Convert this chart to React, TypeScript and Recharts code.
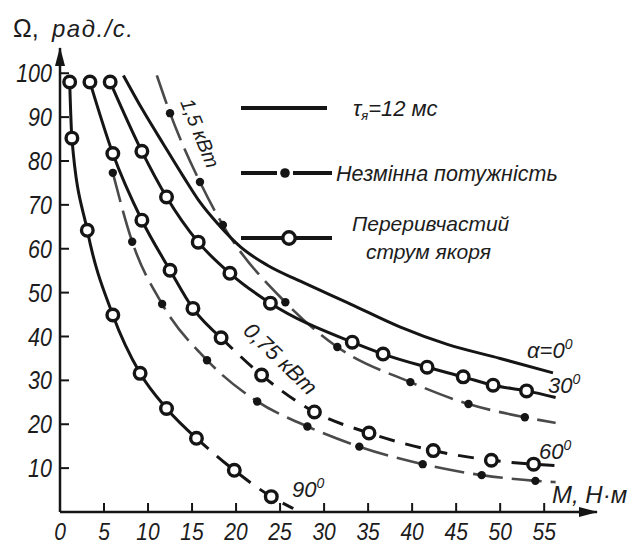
import React from "react";
import { ComposedChart, Line, XAxis, YAxis } from "recharts";

type Pt = { m: number; w: number };

// axis ticks
const xTicks = [0, 5, 10, 15, 20, 25, 30, 35, 40, 45, 50, 55];
const yTicks = [10, 20, 30, 40, 50, 60, 70, 80, 90, 100];

// τя = 12 мс, α = 0° – plain solid curve
const alpha0: Pt[] = [
  { m: 7.2, w: 99.5 },
  { m: 9.4, w: 91.6 },
  { m: 11.7, w: 84 },
  { m: 14, w: 76.5 },
  { m: 15.9, w: 70.6 },
  { m: 18, w: 65.5 },
  { m: 20.5, w: 60.4 },
  { m: 23.5, w: 56.3 },
  { m: 27.3, w: 52.6 },
  { m: 33, w: 47.4 },
  { m: 38.6, w: 42.2 },
  { m: 44, w: 38.2 },
  { m: 50, w: 35 },
  { m: 56, w: 31.7 },
];

// intermittent armature current (circles)
const alpha30Marks: Pt[] = [
  { m: 5.7, w: 98 },
  { m: 9.3, w: 82.2 },
  { m: 12.1, w: 71.8 },
  { m: 15.7, w: 61.5 },
  { m: 19.3, w: 54.4 },
  { m: 23.9, w: 47.6 },
  { m: 33.2, w: 38.7 },
  { m: 36.7, w: 36.0 },
  { m: 41.7, w: 33.0 },
  { m: 45.8, w: 30.8 },
  { m: 49.2, w: 28.9 },
  { m: 53.0, w: 27.6 },
];
const alpha30End: Pt[] = [{ m: 56.3, w: 26.1 }];

const alpha60Marks: Pt[] = [
  { m: 3.4, w: 98 },
  { m: 6.0, w: 81.7 },
  { m: 9.3, w: 66.5 },
  { m: 12.5, w: 55.1 },
  { m: 15.1, w: 46.4 },
  { m: 18.3, w: 39.7 },
  { m: 22.9, w: 31.2 },
  { m: 28.9, w: 22.8 },
  { m: 35.1, w: 18.0 },
  { m: 42.4, w: 14.0 },
  { m: 49.0, w: 11.8 },
  { m: 53.8, w: 10.9 },
];
const alpha60End: Pt[] = [{ m: 56.3, w: 10.6 }];

const alpha90Marks: Pt[] = [
  { m: 1.1, w: 98 },
  { m: 1.35, w: 85.2 },
  { m: 3.1, w: 64.2 },
  { m: 6.0, w: 44.9 },
  { m: 9.1, w: 31.6 },
  { m: 12.1, w: 23.6 },
  { m: 15.5, w: 16.8 },
  { m: 19.8, w: 9.5 },
  { m: 24.0, w: 3.5 },
];
const alpha90End: Pt[] = [{ m: 26.5, w: 0.8 }];

// constant power (dots)
const power15Marks: Pt[] = [
  { m: 12.5, w: 90.9 },
  { m: 15.9, w: 75.2 },
  { m: 18.5, w: 65.4 },
  { m: 25.6, w: 47.8 },
  { m: 31.5, w: 37.6 },
  { m: 39.8, w: 29.6 },
  { m: 46.4, w: 24.6 },
  { m: 52.8, w: 21.6 },
];
const power15Start: Pt[] = [{ m: 11.0, w: 99.5 }];
const power15End: Pt[] = [{ m: 56.3, w: 20.3 }];

const power075Marks: Pt[] = [
  { m: 6.0, w: 77.3 },
  { m: 8.2, w: 61.6 },
  { m: 11.6, w: 47.4 },
  { m: 16.7, w: 34.6 },
  { m: 22.4, w: 25.2 },
  { m: 28.1, w: 19.5 },
  { m: 34.0, w: 14.9 },
  { m: 41.2, w: 10.9 },
  { m: 47.9, w: 8.4 },
  { m: 54.0, w: 7.1 },
];
const power075End: Pt[] = [{ m: 56.3, w: 6.8 }];

const INK = "#151515";
const GREY = "#4a4a4a";
const SANS = "'Liberation Sans', 'DejaVu Sans', sans-serif";

const ring = (p: any) => (
  <circle key={`r${p.index}`} cx={p.cx} cy={p.cy} r={5.8} fill="#fff" stroke={INK} strokeWidth={3.4} />
);
const blob = (p: any) => <circle key={`b${p.index}`} cx={p.cx} cy={p.cy} r={4.2} fill={INK} stroke="none" />;

// narrow italic tick labels (drafting style)
const XTick = (p: any) => (
  <g transform={`translate(${p.x},540) scale(0.86,1)`}>
    <text textAnchor="middle" fontSize={24.5} fontStyle="italic" fontFamily={SANS} fill="#1c1c1c">
      {p.payload.value}
    </text>
  </g>
);
const YTick = (p: any) => (
  <g transform={`translate(52,${p.y}) scale(0.86,1)`}>
    <text textAnchor="end" dy={9} fontSize={25} fontStyle="italic" fontFamily={SANS} fill="#1c1c1c">
      {p.payload.value}
    </text>
  </g>
);

const upTo = (pts: Pt[], m: number) => pts.filter((p) => p.m <= m);
const from = (pts: Pt[], m: number) => pts.filter((p) => p.m >= m);

export default function App() {
  const a30 = [...alpha30Marks, ...alpha30End];
  const a60 = [...alpha60Marks, ...alpha60End];
  const a90 = [...alpha90Marks, ...alpha90End];
  const p15 = [...power15Start, ...power15Marks, ...power15End];
  const p075 = [...power075Marks, ...power075End];

  const txt = { fill: "#1c1c1c", fontStyle: "italic" as const };

  return (
    <div style={{ position: "absolute", left: 0, top: 0, width: 633, height: 546, background: "#fff" }}>
      <ComposedChart width={633} height={546} margin={{ top: 48, right: 36, bottom: 4, left: 10 }}>
        <XAxis
          type="number"
          dataKey="m"
          domain={[0, 61]}
          ticks={xTicks}
          allowDataOverflow
          height={30}
          tickSize={-9}
          axisLine={{ stroke: INK, strokeWidth: 2.5 }}
          tickLine={{ stroke: INK, strokeWidth: 2 }}
          tick={XTick}
        />
        <YAxis
          type="number"
          dataKey="w"
          domain={[0, 105.75]}
          ticks={yTicks}
          allowDataOverflow
          width={50}
          tickSize={-9}
          axisLine={{ stroke: INK, strokeWidth: 2.5 }}
          tickLine={{ stroke: INK, strokeWidth: 2 }}
          tick={YTick}
        />

        {/* constant power */}
        <Line data={p15} dataKey="w" type="monotone" stroke={GREY} strokeWidth={2.6} strokeDasharray="30 9" dot={false} isAnimationActive={false} />
        <Line data={p075} dataKey="w" type="monotone" stroke={GREY} strokeWidth={2.6} strokeDasharray="30 9" dot={false} isAnimationActive={false} />

        {/* tau = 12 ms */}
        <Line data={alpha0} dataKey="w" type="monotone" stroke={INK} strokeWidth={3} dot={false} isAnimationActive={false} />
        <Line data={a30} dataKey="w" type="monotone" stroke={INK} strokeWidth={3} dot={false} isAnimationActive={false} />
        <Line data={upTo(a60, 18.3)} dataKey="w" type="monotone" stroke={INK} strokeWidth={3} dot={false} isAnimationActive={false} />
        <Line data={from(a60, 18.3)} dataKey="w" type="monotone" stroke={INK} strokeWidth={3} strokeDasharray="16 11" dot={false} isAnimationActive={false} />
        <Line data={upTo(a90, 15.5)} dataKey="w" type="monotone" stroke={INK} strokeWidth={3} dot={false} isAnimationActive={false} />
        <Line data={from(a90, 15.5)} dataKey="w" type="monotone" stroke={INK} strokeWidth={3} strokeDasharray="16 11" dot={false} isAnimationActive={false} />

        {/* markers */}
        <Line data={power15Marks} dataKey="w" stroke="none" dot={blob} activeDot={false} isAnimationActive={false} />
        <Line data={power075Marks} dataKey="w" stroke="none" dot={blob} activeDot={false} isAnimationActive={false} />
        <Line data={alpha30Marks} dataKey="w" stroke="none" dot={ring} activeDot={false} isAnimationActive={false} />
        <Line data={alpha60Marks} dataKey="w" stroke="none" dot={ring} activeDot={false} isAnimationActive={false} />
        <Line data={alpha90Marks} dataKey="w" stroke="none" dot={ring} activeDot={false} isAnimationActive={false} />
      </ComposedChart>

      <svg width={633} height={546} style={{ position: "absolute", left: 0, top: 0, pointerEvents: "none" }}>
        {/* axis arrows */}
        <polygon points="60,47 55,66 65,66" fill={INK} />
        <polygon points="598,512 579,507 579,517" fill={INK} />

        {/* axis titles */}
        <text x={13} y={37} fontSize={25} fontFamily={SANS} fill="#1c1c1c">
          Ω,
        </text>
        <text x={52} y={37} fontSize={24} fontFamily={SANS} letterSpacing={1.5} {...txt}>
          рад./с.
        </text>
        <text x={552} y={503} fontSize={24} fontFamily={SANS} {...txt}>
          M, Н·м
        </text>

        {/* legend */}
        <line x1={241} y1={108} x2={327} y2={108} stroke={INK} strokeWidth={4} />
        <text x={353} y={116} fontSize={22} fontFamily={SANS} {...txt}>
          τ<tspan fontSize={13} dy={4}>я</tspan>
          <tspan dy={-4}>=12 мс</tspan>
        </text>

        <line x1={241} y1={173} x2={277} y2={173} stroke={INK} strokeWidth={4} />
        <circle cx={285} cy={173} r={4.8} fill={INK} />
        <line x1={293} y1={173} x2={332} y2={173} stroke={INK} strokeWidth={4} />
        <text x={336} y={181} fontSize={21.5} fontFamily={SANS} {...txt}>
          Незмінна потужність
        </text>

        <line x1={241} y1={238} x2={332} y2={238} stroke={INK} strokeWidth={4} />
        <circle cx={289} cy={238} r={6.2} fill="#fff" stroke={INK} strokeWidth={3.4} />
        <text x={352} y={231} fontSize={21} fontFamily={SANS} {...txt}>
          Переривчастий
        </text>
        <text x={366} y={259} fontSize={21} fontFamily={SANS} {...txt}>
          струм якоря
        </text>

        {/* curve labels */}
        <text transform="translate(180,102) rotate(68)" fontSize={20} fontFamily={SANS} {...txt}>
          1,5 кВт
        </text>
        <text transform="translate(242,332) rotate(44)" fontSize={22} fontFamily={SANS} {...txt}>
          0,75 кВт
        </text>
        <text x={527} y={358} fontSize={22} fontFamily={SANS} {...txt}>
          α=0<tspan fontSize={14} dy={-9}>0</tspan>
        </text>
        <text x={548} y={393} fontSize={22} fontFamily={SANS} {...txt}>
          30<tspan fontSize={14} dy={-9}>0</tspan>
        </text>
        <text x={539} y={459} fontSize={22} fontFamily={SANS} {...txt}>
          60<tspan fontSize={14} dy={-9}>0</tspan>
        </text>
        <text x={292} y={497} fontSize={22} fontFamily={SANS} {...txt}>
          90<tspan fontSize={14} dy={-9}>0</tspan>
        </text>
      </svg>
    </div>
  );
}
